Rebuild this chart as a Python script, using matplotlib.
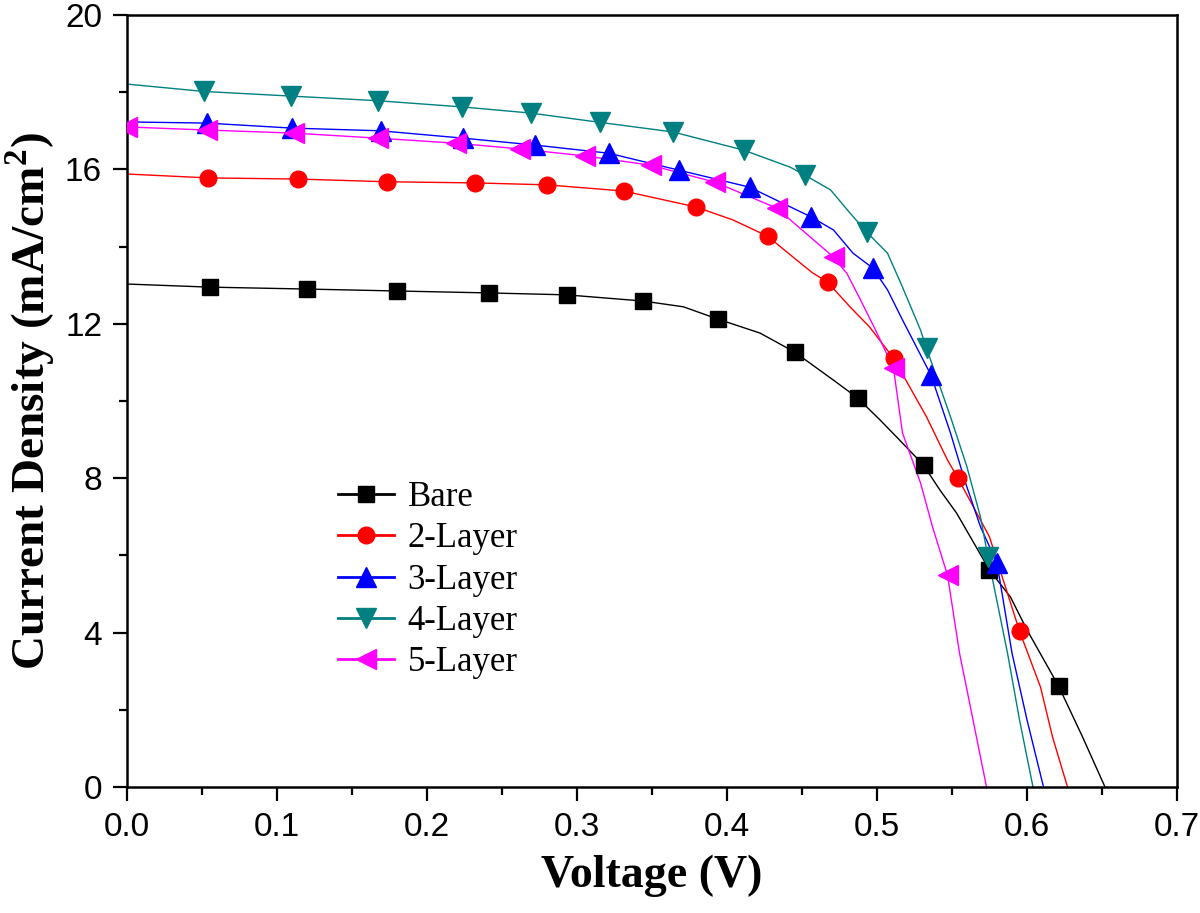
import matplotlib
matplotlib.use("Agg")
import matplotlib.pyplot as plt
from matplotlib.lines import Line2D
from matplotlib.ticker import MultipleLocator

# J-V data: markers and extra points on each curve
bare_v = [0.055, 0.120, 0.180, 0.241, 0.293, 0.344, 0.394, 0.445, 0.487, 0.531, 0.575, 0.621]
bare_j = [12.95, 12.90, 12.85, 12.80, 12.75, 12.59, 12.12, 11.27, 10.08, 8.34, 5.62, 2.62]
bare_cv = [0.0, 0.371, 0.422, 0.471, 0.502, 0.515, 0.542, 0.553, 0.589, 0.600, 0.637, 0.652]
bare_cj = [13.03, 12.44, 11.76, 10.54, 9.51, 8.99, 7.69, 7.10, 4.92, 4.07, 1.30, 0.0]

l2_v = [0.054, 0.114, 0.173, 0.232, 0.280, 0.331, 0.379, 0.427, 0.467, 0.511, 0.554, 0.595]
l2_j = [15.78, 15.75, 15.68, 15.65, 15.60, 15.44, 15.03, 14.27, 13.08, 11.11, 8.00, 4.04]
l2_cv = [0.0, 0.404, 0.444, 0.457, 0.482, 0.495, 0.533, 0.547, 0.575, 0.609, 0.617, 0.627]
l2_cj = [15.88, 14.69, 13.73, 13.32, 12.44, 11.92, 9.59, 8.47, 6.48, 2.59, 1.30, 0.0]

l3_v = [0.053, 0.110, 0.169, 0.224, 0.272, 0.321, 0.368, 0.415, 0.456, 0.497, 0.536, 0.580]
l3_j = [17.20, 17.07, 17.00, 16.81, 16.63, 16.42, 15.98, 15.54, 14.77, 13.45, 10.67, 5.80]
l3_cv = [0.0, 0.471, 0.484, 0.507, 0.517, 0.549, 0.559, 0.569, 0.590, 0.600, 0.611]
l3_cj = [17.23, 14.43, 13.83, 12.88, 12.10, 9.17, 7.88, 6.74, 3.47, 1.74, 0.0]

l4_v = [0.051, 0.109, 0.167, 0.223, 0.269, 0.315, 0.364, 0.411, 0.452, 0.493, 0.533, 0.574]
l4_j = [18.02, 17.90, 17.78, 17.62, 17.46, 17.22, 16.97, 16.50, 15.85, 14.38, 11.37, 5.96]
l4_cv = [0.0, 0.442, 0.469, 0.482, 0.507, 0.517, 0.529, 0.549, 0.560, 0.569, 0.587, 0.595, 0.604]
l4_cj = [18.21, 16.06, 15.47, 14.87, 13.83, 12.95, 11.84, 9.59, 8.29, 6.99, 3.47, 1.74, 0.0]

l5_v = [0.000, 0.053, 0.111, 0.167, 0.219, 0.262, 0.305, 0.349, 0.392, 0.433, 0.471, 0.511, 0.547]
l5_j = [17.10, 17.02, 16.94, 16.81, 16.68, 16.53, 16.35, 16.11, 15.67, 15.00, 13.73, 10.85, 5.49]
l5_cv = [0.480, 0.489, 0.499, 0.517, 0.529, 0.537, 0.555, 0.564, 0.573]
l5_cj = [13.30, 12.62, 11.84, 9.17, 7.88, 6.74, 3.47, 1.74, 0.0]

labels = ["Bare", "2-Layer", "3-Layer", "4-Layer", "5-Layer"]
colors = ["#000000", "#ff0000", "#0000ff", "#008080", "#ff00ff"]
markers = ["s", "o", "^", "v", "<"]
msizes = [12, 12, 15, 15, 15]

series = [
    (bare_v, bare_j, bare_cv, bare_cj),
    (l2_v, l2_j, l2_cv, l2_cj),
    (l3_v, l3_j, l3_cv, l3_cj),
    (l4_v, l4_j, l4_cv, l4_cj),
    (l5_v, l5_j, l5_cv, l5_cj),
]

plt.rcParams["mathtext.fontset"] = "custom"
plt.rcParams["mathtext.bf"] = "Liberation Serif:bold"
plt.rcParams["mathtext.rm"] = "Liberation Serif:bold"

fig = plt.figure(figsize=(12, 9.13), dpi=100)
ax = fig.add_axes([127 / 1200, 1 - 787 / 913, 1050 / 1200, 772 / 913])

handles = []
for (mv, mj, cv, cj), lab, c, m, ms in zip(series, labels, colors, markers, msizes):
    pts = sorted(list(zip(mv, mj)) + list(zip(cv, cj)))
    ax.plot([p[0] for p in pts], [p[1] for p in pts], color=c, lw=1.0, zorder=2)
    ax.plot(mv, mj, ls="none", marker=m, ms=ms, color=c, mec=c, zorder=3)
    handles.append(Line2D([], [], color=c, lw=2, marker=m, ms=ms, label=lab))

ax.set_xlim(0, 0.7)
ax.set_ylim(0, 20)
ax.xaxis.set_major_locator(MultipleLocator(0.1))
ax.xaxis.set_minor_locator(MultipleLocator(0.05))
ax.yaxis.set_major_locator(MultipleLocator(4))
ax.yaxis.set_minor_locator(MultipleLocator(2))
ax.set_xticks([0.0, 0.1, 0.2, 0.3, 0.4, 0.5, 0.6, 0.7])
ax.set_xticklabels(["0.0", "0.1", "0.2", "0.3", "0.4", "0.5", "0.6", "0.7"])

for s in ax.spines.values():
    s.set_linewidth(1.8)
ax.tick_params(which="major", direction="out", length=10, width=1.6, pad=8,
               labelsize=24, top=False, right=False)
ax.tick_params(which="minor", direction="out", length=6, width=1.6, top=False, right=False)
for t in ax.get_xticklabels() + ax.get_yticklabels():
    t.set_fontfamily("Liberation Sans")

ax.set_xlabel("Voltage (V)", fontsize=33, fontweight="bold", family="Liberation Serif", labelpad=8)
ax.set_ylabel(r"Current Density (mA/cm$^\mathbf{2}$)", fontsize=34, fontweight="bold",
              family="Liberation Serif", labelpad=6)

leg = fig.legend(handles=handles, loc="upper left", bbox_to_anchor=(338 / 1200, 1 - 481 / 913),
                 frameon=False, borderpad=0, borderaxespad=0, handlelength=1.6,
                 handletextpad=0.4, labelspacing=0.24,
                 prop={"family": "Liberation Serif", "size": 25})

fig.savefig("out.png", dpi=100)
